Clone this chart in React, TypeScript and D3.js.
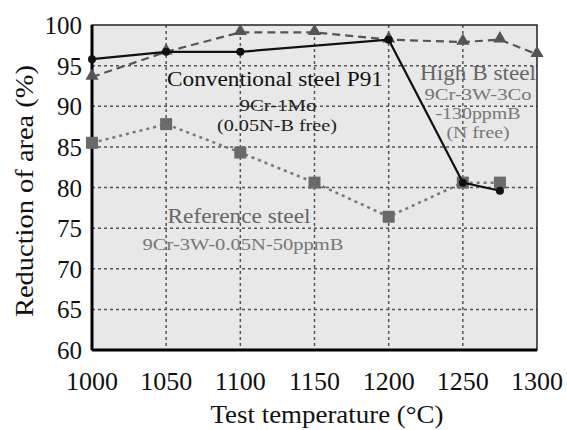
import React from "react";
import * as d3 from "d3";

const p91Temps = [1000, 1050, 1100, 1200, 1250, 1275];
const p91Values = [95.8, 96.7, 96.7, 98.2, 80.6, 79.6];
const highBTemps = [1000, 1050, 1100, 1150, 1200, 1250, 1275, 1300];
const highBValues = [93.6, 96.7, 99.1, 99.1, 98.2, 97.9, 98.2, 96.4];
const refTemps = [1000, 1050, 1100, 1150, 1200, 1250, 1275];
const refValues = [85.5, 87.8, 84.3, 80.6, 76.4, 80.6, 80.6];
const xTicks = [1000, 1050, 1100, 1150, 1200, 1250, 1300];
const yTicks = [60, 65, 70, 75, 80, 85, 90, 95, 100];

const W = 567, H = 430;
const L = 92, R = 537, T = 25, B = 350;
const FONT = "Liberation Serif";

export default function App() {
  const x = d3.scaleLinear().domain([1000, 1300]).range([L, R]);
  const y = d3.scaleLinear().domain([60, 100]).range([B, T]);
  const line = d3.line<[number, number]>().x(d => x(d[0])).y(d => y(d[1]));
  const p91 = p91Temps.map((t, i) => [t, p91Values[i]] as [number, number]);
  const hb = highBTemps.map((t, i) => [t, highBValues[i]] as [number, number]);
  const ref = refTemps.map((t, i) => [t, refValues[i]] as [number, number]);
  const tri = d3.symbol().type(d3.symbolTriangle).size(75)() as string;
  const ts = { fontFamily: FONT };
  const Ann = (p: { x: number; y: number; w: number; s: number; c: string; t: string }) => (
    <text x={p.x} y={p.y} fontSize={p.s} fill={p.c} textAnchor="middle"
      textLength={p.w} lengthAdjust="spacingAndGlyphs" style={ts}>{p.t}</text>
  );
  return (
    <svg width={W} height={H} style={{ position: "absolute", left: 0, top: 0, background: "#fff" }}>
      <rect x={L} y={T} width={R - L} height={B - T} fill="#e8e8e8" />
      {yTicks.filter(v => v > 60 && v < 100).map(v => (
        <line key={"gy" + v} x1={L} x2={R} y1={y(v)} y2={y(v)} stroke="#555" strokeWidth={1.5} strokeDasharray="3,3" />
      ))}
      {xTicks.filter(v => v > 1000 && v < 1300).map(v => (
        <line key={"gx" + v} x1={x(v)} x2={x(v)} y1={T} y2={B} stroke="#555" strokeWidth={1.5} strokeDasharray="3,3" />
      ))}
      <rect x={L} y={T} width={R - L} height={B - T} fill="none" stroke="#222" strokeWidth={1.5} />
      <line x1={L} x2={L} y1={T} y2={B} stroke="#000" strokeWidth={3} />
      <line x1={L} x2={R} y1={B} y2={B} stroke="#000" strokeWidth={3} />

      <path d={line(ref) as string} fill="none" stroke="#777" strokeWidth={2.5} strokeDasharray="3,4" />
      {ref.map((d, i) => (
        <rect key={"r" + i} x={x(d[0]) - 6} y={y(d[1]) - 6} width={12} height={12} fill="#6a6a6a" />
      ))}
      <path d={line(hb) as string} fill="none" stroke="#555" strokeWidth={2.2} strokeDasharray="8,5" />
      {hb.map((d, i) => (
        <path key={"h" + i} d={tri} transform={`translate(${x(d[0])},${y(d[1]) - 1})`} fill="#555" />
      ))}
      <path d={line(p91) as string} fill="none" stroke="#111" strokeWidth={2.2} />
      {p91.map((d, i) => (
        <circle key={"p" + i} cx={x(d[0])} cy={y(d[1])} r={4} fill="#111" />
      ))}

      <Ann x={275} y={86} w={216} s={21} c="#111" t="Conventional steel P91" />
      <Ann x={278} y={111} w={77} s={17} c="#222" t="9Cr-1Mo" />
      <Ann x={277} y={131} w={120} s={17} c="#222" t="(0.05N-B free)" />
      <Ann x={478} y={80} w={116} s={20} c="#666" t="High B steel" />
      <Ann x={478} y={100} w={107} s={16} c="#777" t="9Cr-3W-3Co" />
      <Ann x={478} y={119} w={85} s={16} c="#777" t="-130ppmB" />
      <Ann x={478} y={138} w={63} s={16} c="#777" t="(N free)" />
      <Ann x={239} y={223} w={143} s={20} c="#666" t="Reference steel" />
      <Ann x={243} y={250} w={201} s={16} c="#777" t="9Cr-3W-0.05N-50ppmB" />

      {yTicks.map(v => (
        <text key={"yt" + v} x={82} y={y(v) + 9} fontSize={25} textAnchor="end" fill="#111" style={ts}>{v}</text>
      ))}
      {xTicks.map(v => (
        <text key={"xt" + v} x={x(v)} y={390} fontSize={26} textAnchor="middle" fill="#111" style={ts}>{v}</text>
      ))}
      <text transform={`translate(33,191) rotate(-90)`} fontSize={26} textAnchor="middle" fill="#111"
        textLength={252} lengthAdjust="spacingAndGlyphs" style={ts}>Reduction of area (%)</text>
      <text x={327} y={423} fontSize={25} textAnchor="middle" fill="#111"
        textLength={233} lengthAdjust="spacingAndGlyphs" style={ts}>Test temperature (°C)</text>
    </svg>
  );
}
